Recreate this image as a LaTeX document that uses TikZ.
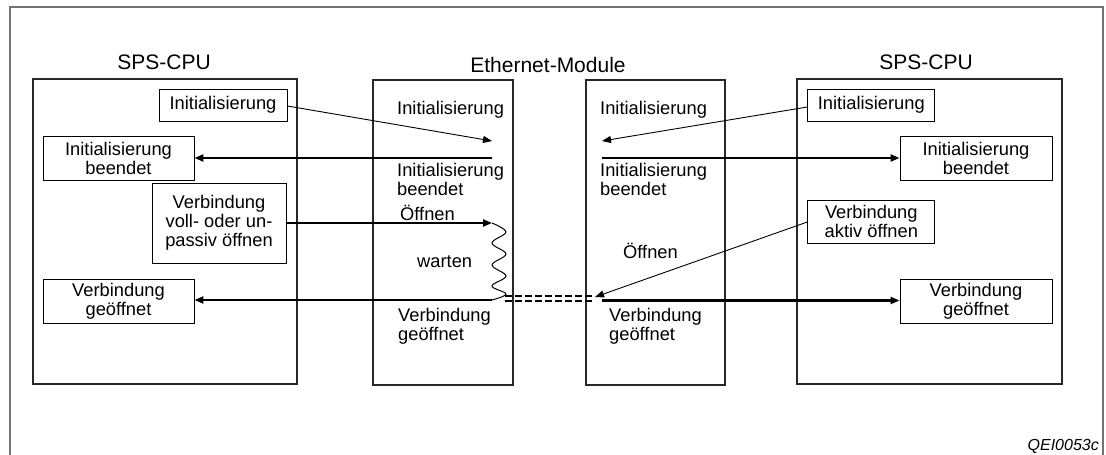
\documentclass[tikz,border=0pt]{standalone}
\usepackage{fontspec}
\setmainfont{Liberation Sans}
\usetikzlibrary{arrows.meta}
\newcommand\bodyfnt{\fontsize{18.3}{19}\selectfont}
\newcommand\titlefnt{\fontsize{21}{24}\selectfont}
\definecolor{framegray}{RGB}{115,115,115}
\definecolor{boxgray}{RGB}{40,40,40}
\begin{document}
\begin{tikzpicture}[x=1pt,y=-1pt,
  box/.style={draw=black,line width=0.9pt,inner sep=0pt,align=center,font=\bodyfnt},
  lbl/.style={inner sep=0pt,anchor=west,align=left,font=\bodyfnt},
  ttl/.style={inner sep=0pt,font=\titlefnt},
  container/.style={draw=boxgray,line width=1.1pt},
  thin/.style={line width=0.9pt,-{Triangle[length=9pt,width=7pt]}},
  thick/.style={line width=2.1pt,-{Triangle[length=9pt,width=7pt]}},
  dashline/.style={line width=2pt,dash pattern=on 7pt off 3pt}]
\useasboundingbox (0,0) rectangle (1106,455);
% outer frame
\draw[framegray,line width=1.6pt] (10,455) -- (10,7) -- (1103,7) -- (1103,455);
% containers
\draw[container] (33,79) rectangle (297,384);
\draw[container] (373,80) rectangle (513,385);
\draw[container] (586,80) rectangle (725,385);
\draw[container] (797,79) rectangle (1062,384);
% titles
\node[ttl] (t1) at (164,62) {SPS-CPU};
\node[ttl] (t2) at (548,65) {Ethernet-Module};
\node[ttl] (t3) at (926,62) {SPS-CPU};
% left CPU boxes
\node[box,minimum width=128pt,minimum height=32pt] (init1) at (223,105) {Initialisierung};
\node[box,minimum width=151pt,minimum height=44pt] (initb1) at (118.5,158) {Initialisierung\\beendet};
\node[box,minimum width=134pt,minimum height=80pt] (vb1) at (219,223) {Verbindung\\voll- oder un-\\passiv öffnen};
\node[box,minimum width=151pt,minimum height=44pt] (vg1) at (118.5,301) {Verbindung\\geöffnet};
% right CPU boxes
\node[box,minimum width=127pt,minimum height=32pt] (init2) at (871.3,105) {Initialisierung};
\node[box,minimum width=152pt,minimum height=44pt] (initb2) at (976,158) {Initialisierung\\beendet};
\node[box,minimum width=127pt,minimum height=43pt] (va2) at (871.3,221.5) {Verbindung\\aktiv öffnen};
\node[box,minimum width=152pt,minimum height=44pt] (vg2) at (976,301) {Verbindung\\geöffnet};
% ethernet labels left
\node[lbl] (e1) at (397,110) {Initialisierung};
\node[lbl] (e2) at (397,179) {Initialisierung\\beendet};
\node[lbl] (e3) at (400,213) {Öffnen};
\node[lbl] (e4) at (417,262) {warten};
\node[lbl] (e5) at (398,326) {Verbindung\\geöffnet};
% ethernet labels right
\node[lbl] (f1) at (600,110) {Initialisierung};
\node[lbl] (f2) at (600,179) {Initialisierung\\beendet};
\node[lbl] (f3) at (623,251) {Öffnen};
\node[lbl] (f4) at (609,326) {Verbindung\\geöffnet};
% coordinates
\coordinate (a1) at (492,141);
\coordinate (a2) at (492,158);
\coordinate (a3) at (492,223);
\coordinate (a4) at (492,300);
\coordinate (b1) at (602,141);
\coordinate (b2) at (602,158);
\coordinate (b3) at (595,297);
\coordinate (b4) at (602,300.5);
\coordinate (d1) at (505,296);
\coordinate (d2) at (595,296);
\coordinate (d3) at (505,300.5);
\coordinate (d4) at (595,300.5);
% arrows left side
\draw[thin] (init1.east |- 0,106) -- (a1);
\draw[thick] (a2) -- (initb1.east);
\draw[thick] (vb1.east |- a3) -- (a3);
\draw[line width=1pt] plot[smooth,tension=0.6] coordinates {(492,223) (506,232) (492,243) (506,254) (492,265) (506,276) (492,286) (506,294) (492,300)};
\draw[thick] (a4) -- (vg1.east |- a4);
% dashed double line
\draw[dashline] (d1) -- (d2);
\draw[dashline] (d3) -- (d4);
% arrows right side
\draw[thin] (init2.west |- 0,107) -- (b1);
\draw[thick] (b2) -- (initb2.west);
\draw[thin] (va2.west |- 0,222) -- (b3);
\draw[thick] (b4) -- (vg2.west |- b4);
% code
\node[inner sep=0pt,anchor=east,font=\fontsize{16}{18}\selectfont\itshape] (code) at (1099,446) {QEI0053c};
\end{tikzpicture}
\end{document}
